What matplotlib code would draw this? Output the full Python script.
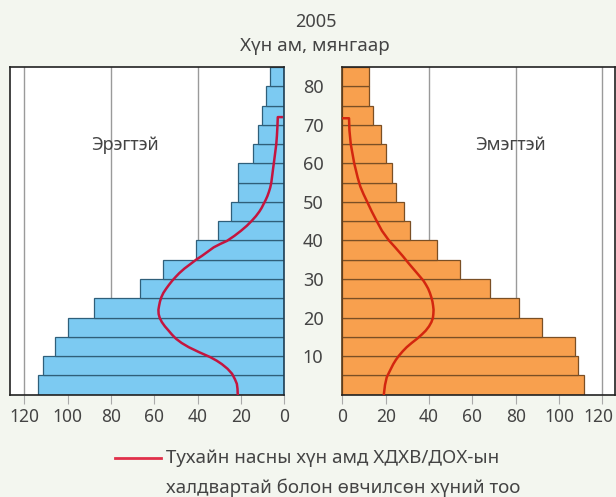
import numpy as np
import matplotlib.pyplot as plt
from matplotlib.lines import Line2D
from matplotlib.transforms import ScaledTranslation

plt.rcParams['font.family'] = ['Noto Sans', 'DejaVu Sans']

# Насны бүлгүүд (5 жилээр), хүн ам мянгаар
nas = np.arange(0, 85, 5)
eregtei = [113.5, 111.2, 105.8, 99.7, 87.8, 66.6, 56.2, 40.8, 30.6,
           24.6, 21.5, 21.5, 14.5, 12.0, 10.5, 8.6, 6.8]
emegtei = [111.7, 108.6, 107.5, 92.3, 81.7, 68.2, 54.5, 43.8, 31.4,
           28.5, 24.8, 23.1, 20.2, 17.7, 14.0, 12.5, 12.5]

# ХДХВ/ДОХ-ын муруй (нас, тоо)
er_nas = [0.2, 1.5, 2.8, 4.0, 5.4, 6.7, 7.9, 8.8, 9.7, 11.0, 12.3, 13.4, 14.5,
          15.6, 16.6, 17.7, 18.8, 19.9, 20.9, 22.0, 23.0, 24.1, 25.2, 26.4,
          27.5, 28.5, 29.5, 30.5, 31.5, 32.7, 33.8, 35.0, 36.0, 37.1, 38.2,
          39.1, 39.9, 41.2, 42.5, 43.8, 45.1, 46.3, 47.5, 48.5, 49.4, 50.5,
          51.5, 52.6, 53.7, 55.0, 56.3, 58.5, 60.6, 62.8, 65.0, 67.2, 69.3,
          72.0, 72.0]
er_too = [21.5, 21.6, 21.9, 22.8, 24.1, 26.2, 28.8, 31.2, 34.1, 39.3, 44.1, 47.4, 50.0,
          51.9, 53.4, 55.1, 56.5, 57.5, 58.0, 58.1, 57.8, 57.4, 56.8, 55.8,
          54.5, 53.2, 51.8, 50.2, 48.5, 46.1, 43.5, 40.7, 38.0, 35.3, 32.6,
          29.5, 26.4, 23.0, 20.0, 17.3, 15.0, 13.1, 11.5, 10.4, 9.6, 8.6,
          7.8, 7.1, 6.5, 6.0, 5.7, 5.2, 4.7, 4.2, 3.7, 3.4, 3.2,
          3.0, 1.2]
em_nas = [0.2, 2.5, 4.5, 6.0, 7.9, 9.0, 10.0, 11.2, 12.3, 13.4, 14.5, 15.6,
          16.6, 17.7, 18.8, 19.9, 20.9, 22.0, 23.0, 24.1, 25.2, 26.4, 27.5,
          28.5, 29.5, 31.5, 33.8, 36.0, 38.2, 40.0, 42.5, 45.1, 47.5,
          49.4, 52.0, 54.0, 56.3, 60.0, 65.0, 68.5, 71.7, 71.7]
em_too = [19.2, 19.7, 20.5, 21.8, 23.5, 24.7, 26.0, 27.8, 29.7, 32.0, 34.5, 36.7,
          38.5, 40.0, 41.1, 41.8, 42.0, 42.1, 41.9, 41.6, 41.1, 40.4, 39.6,
          38.6, 37.5, 34.5, 31.0, 27.8, 24.4, 21.5, 18.3, 15.8, 13.6,
          12.0, 9.8, 8.3, 7.1, 5.5, 3.9, 3.3, 3.1, 0.0]

x_ticks = [0, 20, 40, 60, 80, 100, 120]
grid_vals = [40, 80, 120]
nas_ticks = [10, 20, 30, 40, 50, 60, 70, 80]

W, H = 616, 497
fig = plt.figure(figsize=(W / 100, H / 100), dpi=100, facecolor='#f3f6ef')
y0, y1 = 394.6, 67.0
ax_l = fig.add_axes([10 / W, (H - y0) / H, 274.3 / W, (y0 - y1) / H])
ax_r = fig.add_axes([342.3 / W, (H - y0) / H, 272.7 / W, (y0 - y1) / H])

txt = '#444444'
for ax, vals, fc, ec in [(ax_l, eregtei, '#7ccaf2', '#2f5f7a'),
                         (ax_r, emegtei, '#f8a04e', '#7a4f25')]:
    for g in grid_vals:
        ax.axvline(g, color='#9a9a9a', lw=1, zorder=0)
    ax.barh(nas, vals, height=5, align='edge', color=fc, edgecolor=ec,
            linewidth=0.9, zorder=2)
    ax.set_ylim(0, 85)
    ax.set_xticks(x_ticks)
    ax.tick_params(axis='x', length=6.5, width=0.8, color='#aaaaaa',
                   labelsize=12.5, labelcolor=txt, pad=3)
    for s in ax.spines.values():
        s.set_linewidth(1.2)
        s.set_color('#222222')

ax_l.set_xlim(126.6, 0)
ax_r.set_xlim(0, 125.8)

ax_l.set_yticks([])
ax_l.spines['right'].set_color('#1e3f55')
ax_r.spines['left'].set_color('#5a3a1a')

# Насны шошго хоёр хэсгийн дунд
ax_r.set_yticks(nas_ticks)
ax_r.tick_params(axis='y', length=0, pad=21, labelsize=13, labelcolor=txt)
for lab in ax_r.get_yticklabels():
    lab.set_horizontalalignment('center')

# сүүлийн "120"-г бага зэрэг зүүн тийш шилжүүлж хүрээнд багтаана
lab120 = ax_r.get_xticklabels()[-1]
lab120.set_transform(lab120.get_transform() +
                     ScaledTranslation(-3 / 72, 0, fig.dpi_scale_trans))

ax_l.plot(er_too, er_nas, color='#c4153f', lw=1.8, zorder=3)
ax_r.plot(em_too, em_nas, color='#d3260f', lw=1.8, zorder=3)

ax_l.text(73.6, 64.7, 'Эрэгтэй', ha='center', va='center', fontsize=13, color=txt)
ax_r.text(77.4, 64.7, 'Эмэгтэй', ha='center', va='center', fontsize=13, color=txt)

fig.text(316 / W, 1 - 22 / H, '2005', ha='center', va='center', fontsize=13, color=txt)
fig.text(315 / W, 1 - 46 / H, 'Хүн ам, мянгаар', ha='center', va='center',
         fontsize=13.5, color=txt)

# Тайлбар
fig.add_artist(Line2D([115 / W, 161 / W], [1 - 458 / H, 1 - 458 / H],
                      color='#e0304a', lw=2, transform=fig.transFigure))
fig.text(166 / W, 1 - 458 / H, 'Тухайн насны хүн амд ХДХВ/ДОХ-ын',
         ha='left', va='center', fontsize=13.5, color=txt)
fig.text(166 / W, 1 - 488 / H, 'халдвартай болон өвчилсөн хүний тоо',
         ha='left', va='center', fontsize=13.5, color=txt)

fig.savefig('out.png', dpi=100, facecolor=fig.get_facecolor())
